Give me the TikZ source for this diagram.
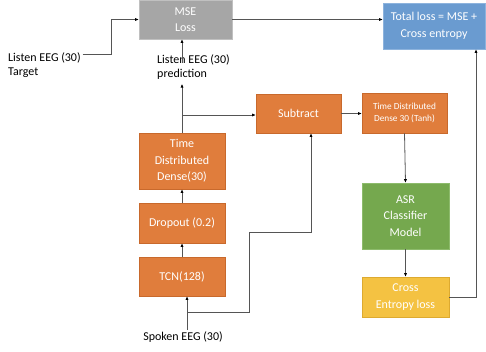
\documentclass[tikz,border=0pt]{standalone}
\usepackage{fontspec}
\setmainfont{Carlito}
\usetikzlibrary{arrows.meta}
\definecolor{orfill}{HTML}{E07D3C}
\definecolor{ordraw}{HTML}{C8692C}
\definecolor{grfill}{HTML}{A6A6A6}
\definecolor{grdraw}{HTML}{C0C0C0}
\definecolor{blfill}{HTML}{6A9BD0}
\definecolor{bldraw}{HTML}{8DB3DD}
\definecolor{gnfill}{HTML}{75A84E}
\definecolor{gndraw}{HTML}{8DBB6C}
\definecolor{yefill}{HTML}{F4C242}
\definecolor{yedraw}{HTML}{DDAA30}
\definecolor{linec}{HTML}{555555}
\begin{document}
\begin{tikzpicture}[x=1pt,y=-1pt,
  blk/.style={rectangle, text=white, align=center, inner sep=0pt, line width=0.6pt,
    font=\fontsize{12}{16.5}\selectfont},
  orbox/.style={blk, fill=orfill, draw=ordraw},
  grbox/.style={blk, fill=grfill, draw=grdraw},
  blbox/.style={blk, fill=blfill, draw=bldraw},
  gnbox/.style={blk, fill=gnfill, draw=gndraw},
  yebox/.style={blk, fill=yefill, draw=yedraw},
  lbl/.style={inner sep=0pt, align=left, text=black, font=\fontsize{12}{14}\selectfont},
  wire/.style={draw=linec, line width=0.8pt},
  arr/.style={wire, -{Latex[length=3.5pt,width=3.2pt,black]}}
]
\useasboundingbox (0,0) rectangle (486,351);

% boxes
\node[grbox, minimum width=93pt, minimum height=39pt] (mse) at (185.5,19.5) {MSE\\Loss};
\node[blbox, minimum width=102pt, minimum height=46pt] (total) at (434,26) {Total loss = MSE +\\Cross entropy};
\node[orbox, minimum width=85pt, minimum height=39pt] (sub) at (298.5,113.5) {Subtract};
\node[orbox, minimum width=85pt, minimum height=40pt, font=\fontsize{9.3}{12.5}\selectfont] (tdt) at (404.5,113) {Time Distributed\\Dense 30 (Tanh)};
\node[orbox, minimum width=86pt, minimum height=56pt] (tdd) at (182,161) {Time\\Distributed\\Dense(30)};
\node[orbox, minimum width=86pt, minimum height=40pt] (drop) at (182,223) {Dropout (0.2)};
\node[orbox, minimum width=86pt, minimum height=39pt] (tcn) at (182,276.5) {TCN(128)};
\node[gnbox, minimum width=87pt, minimum height=66pt] (asr) at (405.5,216) {ASR\\Classifier\\Model};
\node[yebox, minimum width=87pt, minimum height=40pt] (ce) at (405.5,297) {Cross\\Entropy loss};

% labels
\node[lbl, anchor=base west] (tgt) at (8,75.5) {Listen EEG (30)\\Target};
\node[lbl, anchor=base west] (pred) at (157,77) {Listen EEG (30)\\prediction};
\node[lbl, anchor=base] (spoken) at (183,340) {Spoken EEG (30)};

% coordinates
\coordinate (tgtend) at (82.5,54);
\coordinate (predtop) at (182,63);
\coordinate (j1) at (182,115);
\coordinate (inp) at (187,330);
\coordinate (br) at (187,312);

% connectors
\draw[arr] (tgtend) -- ++(28.5,0) |- (mse.west);
\draw[arr] (mse.east) -- (mse.east -| total.west);
\draw[wire] (tdd.north) -- (j1);
\draw[arr] (j1) -- (sub.west |- j1);
\draw[arr] (j1) -- (182,84);
\draw[arr] (predtop) -- (predtop |- mse.south);
\draw[arr] (inp) -- (inp |- tcn.south);
\draw[arr] (br) -| (249,232) -| ([xshift=12.5pt]sub.south);
\draw[arr] (tcn.north) -- (drop.south);
\draw[arr] (drop.north) -- (tdd.south);
\draw[arr] (sub.east) -- (sub.east -| tdt.west);
\draw[arr] (tdt.south) -- (asr.north);
\draw[arr] (asr.south) -- (ce.north);
\draw[arr] (ce.east) -| ([xshift=42pt]total.south);
\end{tikzpicture}
\end{document}
